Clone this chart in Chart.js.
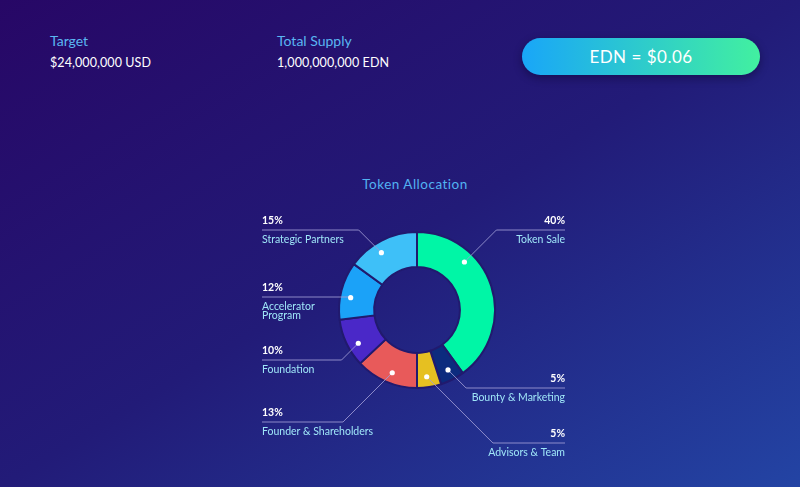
<!DOCTYPE html>
<html>
<head>
<meta charset="utf-8">
<script src="https://cdn.jsdelivr.net/npm/chart.js@4"></script>
<style>
  html, body { margin:0; padding:0; width:800px; height:487px; overflow:hidden; }
  body { background: linear-gradient(to bottom right, #270766 0%, #221b78 50%, #2344a4 100%); font-family: Lato, "Open Sans", sans-serif; position:relative; }
  .lbl { position:absolute; color:#5ab6f2; font-size:14px; line-height:1; }
  .val { position:absolute; color:#ffffff; font-size:12.5px; line-height:1; letter-spacing:0.1px; }
  .btn { position:absolute; left:522px; top:38px; width:238px; height:37px; border-radius:19px;
         background: linear-gradient(to right, #19a6f8, #42f0a0); color:#fff; font-size:17px;
         display:flex; align-items:center; justify-content:center; letter-spacing:0.5px;
         box-shadow: 0 3px 8px rgba(10,0,40,0.45); }
  .title { position:absolute; left:0; width:830px; top:178px; text-align:center; color:#52b2f2; font-size:13.5px; letter-spacing:0.5px; line-height:1; }
  canvas { position:absolute; left:0; top:0; }
</style>
</head>
<body>
<div class="lbl" style="left:50px;top:34px;">Target</div>
<div class="val" style="left:50px;top:57px;">$24,000,000 USD</div>
<div class="lbl" style="left:277px;top:34px;">Total Supply</div>
<div class="val" style="left:277px;top:57px;">1,000,000,000 EDN</div>
<div class="btn">EDN = $0.06</div>
<div class="title">Token Allocation</div>
<canvas id="c" width="800" height="487"></canvas>
<script>
// ---- data ----
const categories = ['Token Sale', 'Bounty & Marketing', 'Advisors & Team', 'Founder & Shareholders', 'Foundation', 'Accelerator\nProgram', 'Strategic Partners'];
const shares = [40, 5, 5, 13, 10, 12, 15];
const percentLabels = ['40%', '5%', '5%', '13%', '10%', '12%', '15%'];
const sliceColors = ['#00f6a6', '#0c2b7e', '#e6c021', '#e85a5a', '#4a28c8', '#1ba2f8', '#3ec0f8'];
// label layout: which column, y of percent text, where along the slice the marker sits
const labelSide = ['right', 'right', 'right', 'left', 'left', 'left', 'left'];
const labelY = [221, 379, 434, 413, 351, 288, 221];
const markerFrac = [0.31, 0.48, 0.54, 0.46, 0.38, 0.41, 0.41];

const leaderPlugin = {
  id: 'leaders',
  afterDraw(chart) {
    const ctx = chart.ctx;
    const meta = chart.getDatasetMeta(0);
    const leftX = 262, rightX = 565;
    meta.data.forEach((arc, i) => {
      const p = arc.getProps(['x', 'y', 'startAngle', 'endAngle', 'innerRadius', 'outerRadius'], true);
      const a = p.startAngle + markerFrac[i] * (p.endAngle - p.startAngle);
      const r = p.innerRadius + 0.7 * (p.outerRadius - p.innerRadius);
      const dx = p.x + r * Math.cos(a), dy = p.y + r * Math.sin(a);
      const lineY = labelY[i] + 9;
      const diff = Math.abs(lineY - dy);
      const left = labelSide[i] === 'left';
      const ex = left ? dx - diff : dx + diff;
      ctx.save();
      ctx.strokeStyle = 'rgba(160,156,214,0.85)';
      ctx.lineWidth = 1;
      ctx.beginPath();
      ctx.moveTo(dx, dy);
      ctx.lineTo(ex, lineY);
      ctx.lineTo(left ? leftX : rightX, lineY);
      ctx.stroke();
      ctx.fillStyle = '#ffffff';
      ctx.beginPath();
      ctx.arc(dx, dy, 2.6, 0, Math.PI * 2);
      ctx.fill();
      ctx.textAlign = left ? 'left' : 'right';
      ctx.textBaseline = 'middle';
      const tx = left ? leftX : rightX;
      ctx.font = 'bold 10.5px Lato, "Open Sans", sans-serif';
      ctx.fillText(percentLabels[i], tx, labelY[i]);
      ctx.fillStyle = '#9fe6f8';
      ctx.font = '10.5px Lato, "Open Sans", sans-serif';
      categories[i].split('\n').forEach((line, k) => {
        ctx.fillText(line, tx, labelY[i] + 18.5 + k * 9.5);
      });
      ctx.restore();
    });
  }
};

new Chart(document.getElementById('c'), {
  type: 'doughnut',
  data: {
    labels: categories,
    datasets: [{
      data: shares,
      backgroundColor: sliceColors,
      borderColor: '#211a6e',
      borderWidth: 2,
      hoverOffset: 0
    }]
  },
  options: {
    responsive: false,
    animation: false,
    cutout: '55%',
    layout: { padding: { left: 338, right: 304, top: 231, bottom: 98 } },
    plugins: { legend: { display: false }, tooltip: { enabled: false } }
  },
  plugins: [leaderPlugin]
});
</script>
</body>
</html>
